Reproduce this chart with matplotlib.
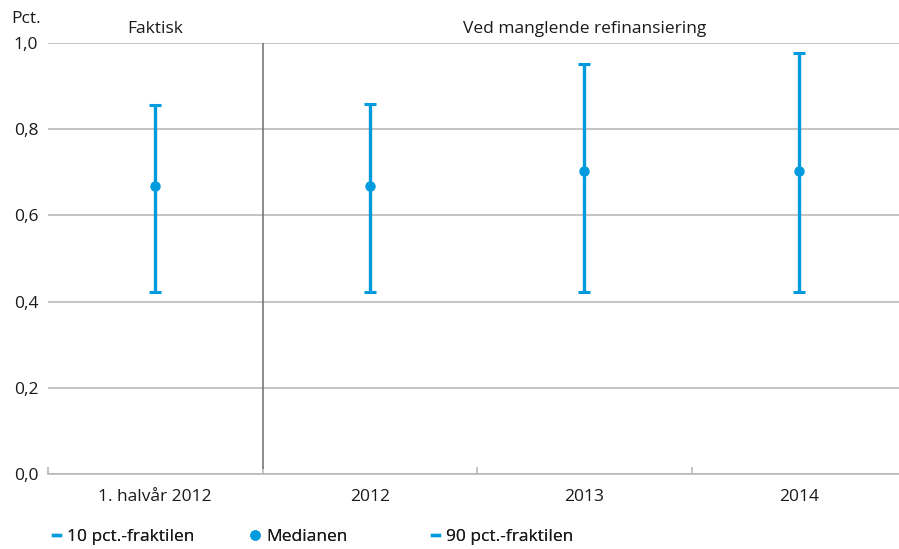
import matplotlib.pyplot as plt
from matplotlib.lines import Line2D
from matplotlib.ticker import FixedLocator, FuncFormatter

plt.rcParams['font.family'] = ['Open Sans', 'DejaVu Sans']

categories = ['1. halvår 2012', '2012', '2013', '2014']
p10 = [0.422, 0.422, 0.422, 0.422]
median = [0.668, 0.668, 0.703, 0.703]
p90 = [0.857, 0.858, 0.951, 0.977]

blue = '#009bde'
grid_col = '#b4b4b4'
text_col = '#1a1a1a'
fs = 12.5

fig = plt.figure(figsize=(8.99, 5.49), dpi=100)
# aksen går litt forbi høyre kant, slik som i originalen
ax = fig.add_axes([48 / 899, 75 / 549, 858 / 899, 431 / 549])

x = list(range(len(categories)))
lower = [m - lo for m, lo in zip(median, p10)]
upper = [hi - m for m, hi in zip(median, p90)]
ax.errorbar(x, median, yerr=[lower, upper], fmt='o', color=blue, ecolor=blue,
            elinewidth=2.4, capsize=4, capthick=2.2, markersize=6.5, zorder=3)

ax.set_xlim(-0.5, len(categories) - 0.5)
ax.set_ylim(0, 1.0)
ax.set_yticks([0, 0.2, 0.4, 0.6, 0.8, 1.0])
ax.yaxis.set_major_formatter(FuncFormatter(lambda v, p: f'{v:.1f}'.replace('.', ',')))
ax.yaxis.grid(True, color=grid_col, linewidth=1.1)
ax.set_axisbelow(True)
ax.tick_params(axis='y', length=0, labelsize=fs, colors=text_col, pad=7)

ax.set_xticks(x)
ax.set_xticklabels(categories)
ax.xaxis.set_minor_locator(FixedLocator([-0.5, 0.5, 1.5, 2.5]))
ax.tick_params(axis='x', which='major', length=0, labelsize=fs, colors=text_col, pad=11)
ax.tick_params(axis='x', which='minor', direction='in', length=5, color=grid_col, width=1.1)

for s in ['top', 'right', 'left']:
    ax.spines[s].set_visible(False)
ax.spines['bottom'].set_color(grid_col)
ax.spines['bottom'].set_linewidth(1.1)

# skillelinje mellom faktisk og fremskrevet
ax.axvline(0.5, ymin=0.015, ymax=1.0, color='#6e6e6e', linewidth=1.1, zorder=2)

ax.text(0, 1.015, 'Faktisk', ha='center', va='bottom', fontsize=fs, color=text_col,
        transform=ax.get_xaxis_transform())
ax.text(2.0, 1.015, 'Ved manglende refinansiering', ha='center', va='bottom', fontsize=fs,
        color=text_col, transform=ax.get_xaxis_transform())
fig.text(11 / 899, 1 - 19 / 549, 'Pct.', ha='left', va='center', fontsize=fs, color=text_col)

# legende, tre separate elementer plassert som i originalen
legend_items = [
    (Line2D([], [], color=blue, linewidth=2.4), '10 pct.-fraktilen', 37),
    (Line2D([], [], color=blue, marker='o', linestyle='none', markersize=6.5), 'Medianen', 236),
    (Line2D([], [], color=blue, linewidth=2.4), '90 pct.-fraktilen', 416),
]
for handle, label, xpos in legend_items:
    leg = fig.legend([handle], [label], loc='center left',
                     bbox_to_anchor=(xpos / 899, 1 - 537 / 549), frameon=False,
                     fontsize=fs, handlelength=0.42, handletextpad=0.4,
                     labelcolor=text_col)
    fig.add_artist(leg)

fig.savefig('out.png', dpi=100)
